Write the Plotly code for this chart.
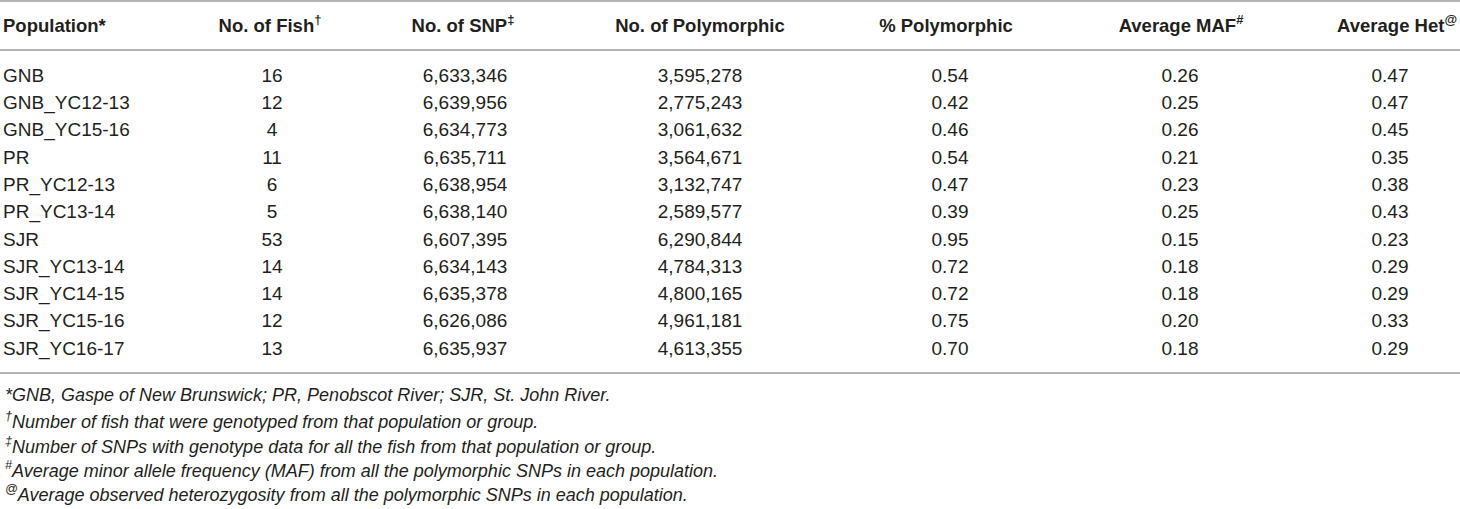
import plotly.graph_objects as go

# table values
populations = ["GNB", "GNB_YC12-13", "GNB_YC15-16", "PR", "PR_YC12-13", "PR_YC13-14",
               "SJR", "SJR_YC13-14", "SJR_YC14-15", "SJR_YC15-16", "SJR_YC16-17"]
n_fish = [16, 12, 4, 11, 6, 5, 53, 14, 14, 12, 13]
n_snp = [6633346, 6639956, 6634773, 6635711, 6638954, 6638140,
         6607395, 6634143, 6635378, 6626086, 6635937]
n_poly = [3595278, 2775243, 3061632, 3564671, 3132747, 2589577,
          6290844, 4784313, 4800165, 4961181, 4613355]
pct_poly = [0.54, 0.42, 0.46, 0.54, 0.47, 0.39, 0.95, 0.72, 0.72, 0.75, 0.70]
avg_maf = [0.26, 0.25, 0.26, 0.21, 0.23, 0.25, 0.15, 0.18, 0.18, 0.20, 0.18]
avg_het = [0.47, 0.47, 0.45, 0.35, 0.38, 0.43, 0.23, 0.29, 0.29, 0.33, 0.29]

headers = ["Population*", "No. of Fish<sup>†</sup>", "No. of SNP<sup>‡</sup>", "No. of Polymorphic",
           "% Polymorphic", "Average MAF<sup>#</sup>", "Average Het<sup>@</sup>"]

footnotes = [
    "*GNB, Gaspe of New Brunswick; PR, Penobscot River; SJR, St. John River.",
    "<sup>†</sup>Number of fish that were genotyped from that population or group.",
    "<sup>‡</sup>Number of SNPs with genotype data for all the fish from that population or group.",
    "<sup>#</sup>Average minor allele frequency (MAF) from all the polymorphic SNPs in each population.",
    "<sup>@</sup>Average observed heterozygosity from all the polymorphic SNPs in each population.",
]

columns = [
    populations,
    [str(v) for v in n_fish],
    [f"{v:,}" for v in n_snp],
    [f"{v:,}" for v in n_poly],
    [f"{v:.2f}" for v in pct_poly],
    [f"{v:.2f}" for v in avg_maf],
    [f"{v:.2f}" for v in avg_het],
]

# layout (pixel-ish) settings
W, H = 1460, 509
col_x = [3, 272, 465, 700, 950, 1180, 1390]
head_x = [3, 270, 463, 700, 946, 1181, 1457]
head_pos = ["middle right"] + ["middle center"] * 5 + ["middle left"]
row0, row_step = 77, 27.3
header_px = 27
line_px = [1, 50, 373]
foot_px = [395, 420, 445, 469, 493]
FONT = "Liberation Sans, Arial, sans-serif"

def to_row(px):
    return (px - row0) / row_step

rows = list(range(len(populations)))

fig = go.Figure()
for i, (x, vals) in enumerate(zip(col_x, columns)):
    fig.add_trace(go.Scatter(
        x=[x] * len(vals), y=rows, text=vals, mode="text",
        textposition="middle right" if i == 0 else "middle center",
        textfont=dict(family=FONT, size=19, color="#231f20"),
        hoverinfo="skip", showlegend=False,
    ))

fig.add_trace(go.Scatter(
    x=head_x, y=[to_row(header_px)] * len(headers), text=["<b>%s</b>" % h for h in headers],
    mode="text", textposition=head_pos,
    textfont=dict(family=FONT, size=18.5, color="#231f20"),
    hoverinfo="skip", showlegend=False,
))

for lp in line_px:
    fig.add_shape(type="line", xref="x", yref="y", x0=0, x1=W, y0=to_row(lp), y1=to_row(lp),
                  line=dict(color="#9a9a9a", width=1.3))

for txt, fp in zip(footnotes, foot_px):
    fig.add_annotation(x=3, y=to_row(fp), xref="x", yref="y", text="<i>%s</i>" % txt,
                       showarrow=False, xanchor="left", yanchor="middle",
                       font=dict(family=FONT, size=18, color="#231f20"))

fig.update_xaxes(range=[0, W], visible=False, fixedrange=True)
fig.update_yaxes(range=[to_row(H), to_row(0)], visible=False, fixedrange=True)
fig.update_layout(
    width=W, height=H,
    margin=dict(l=0, r=0, t=0, b=0),
    plot_bgcolor="white", paper_bgcolor="white",
)

fig.write_html("out.html", config={"displayModeBar": False},
               post_script="document.body.style.margin='0';")
